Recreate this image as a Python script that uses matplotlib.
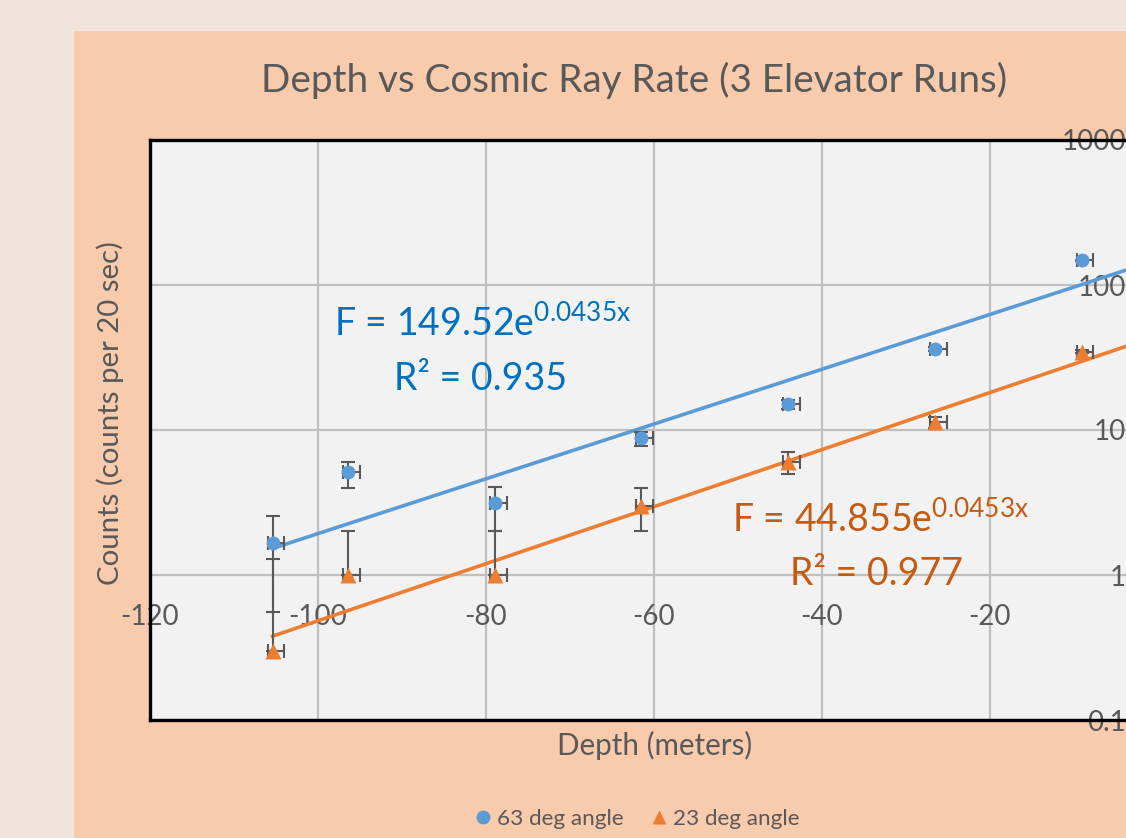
import numpy as np
import matplotlib
matplotlib.use('Agg')
from matplotlib import pyplot as plt
from matplotlib.patches import Rectangle
from matplotlib.lines import Line2D

plt.rcParams['font.family'] = ['Lato', 'DejaVu Sans']
plt.rcParams['mathtext.fontset'] = 'custom'
plt.rcParams['mathtext.rm'] = 'Lato'

# depth of each elevator stop (m)
depth = [-105.4, -96.4, -78.9, -61.5, -44.0, -26.5, -9.1]
depth_err_lo = [0.6] * 7
depth_err_hi = [1.4] * 7

# 63 degree telescope
rate_63 = [1.66, 5.16, 3.14, 8.77, 15.0, 36.2, 148.0]
rate_63_lo = [1.10, 1.15, 1.14, 1.0, 1.0, 1.0, 1.0]
rate_63_hi = [0.89, 0.85, 0.88, 0.95, 1.0, 1.0, 1.0]

# 23 degree telescope
rate_23 = [0.30, 1.0, 1.0, 3.0, 6.0, 11.3, 34.7]
rate_23_lo = [0.0, 0.0, 0.0, 1.0, 1.0, 1.0, 1.0]
rate_23_hi = [0.99, 1.0, 1.0, 1.0, 1.0, 1.0, 1.0]

# Excel exponential trendlines  F = a*exp(b*x)
fit_63 = (149.52, 0.0435, 0.935)
fit_23 = (44.855, 0.0453, 0.977)

xticks = [-120, -100, -80, -60, -40, -20]
yticks = [0.1, 1, 10, 100, 1000]
ytick_labels = ['0.1', '1', '10', '100', '1000']

blue = '#5B9BD5'
orange = '#ED7D31'
grey = '#595959'

W, H = 1126, 838
fig = plt.figure(figsize=(W / 100, H / 100), dpi=100, facecolor='#F2E4DC')

def fx(px):
    return px / W

def fy(py):
    return 1 - py / H

# chart area panel
fig.patches.append(Rectangle((fx(74), 0), 1.0, fy(31), transform=fig.transFigure,
                             facecolor='#F8CBAD', edgecolor='none', zorder=-10))

ax = fig.add_axes([fx(150), fy(720), (1158 - 150) / W, (720 - 140) / H])
ax.set_zorder(1)
ax.set_facecolor('#F2F2F2')
ax.set_yscale('log')
ax.set_xlim(-120, 0)
ax.set_ylim(0.1, 1000)
ax.set_xticks(xticks + [0])
ax.set_xticklabels([str(t) for t in xticks] + [''])
ax.set_yticks(yticks)
ax.set_yticklabels(ytick_labels)
ax.minorticks_off()
ax.grid(True, color='#BFBFBF', linewidth=1.6, zorder=0)
ax.set_axisbelow(True)

# horizontal axis crosses at 1, plot-area border drawn in black
ax.spines['bottom'].set_position(('data', 1))
ax.spines['bottom'].set_visible(False)
ax.spines['right'].set_visible(False)
for s in ['left', 'top']:
    ax.spines[s].set_color('black')
    ax.spines[s].set_linewidth(2.4)
    ax.spines[s].set_zorder(6)
ax.axhline(0.1, color='black', lw=2.4, clip_on=False, zorder=6)

ax.yaxis.tick_right()
ax.tick_params(axis='x', length=0, pad=21, labelsize=20, labelcolor=grey)
ax.tick_params(axis='y', length=0, pad=-23, labelsize=20, labelcolor=grey)
for lab in ax.get_yticklabels():
    lab.set_horizontalalignment('right')

# trendlines
xx = np.linspace(depth[0], 0, 200)
ax.plot(xx, fit_63[0] * np.exp(fit_63[1] * xx), color=blue, lw=2.6, zorder=3)
ax.plot(xx, fit_23[0] * np.exp(fit_23[1] * xx), color=orange, lw=2.6, zorder=3)

# error bars
ax.errorbar(depth, rate_63, yerr=[rate_63_lo, rate_63_hi], xerr=[depth_err_lo, depth_err_hi],
            fmt='none', ecolor=grey, elinewidth=1.5, capsize=5, capthick=1.5, zorder=4)
ax.errorbar(depth, rate_23, yerr=[rate_23_lo, rate_23_hi], xerr=[depth_err_lo, depth_err_hi],
            fmt='none', ecolor=grey, elinewidth=1.5, capsize=5, capthick=1.5, zorder=4)

ax.plot(depth, rate_63, 'o', color=blue, ms=10, mec='none', zorder=5)
ax.plot(depth, rate_23, '^', color=orange, ms=11, mec='none', zorder=5)

# trendline equations
eq_size = 27
fig.text(fx(334), fy(337), r'F = %.2fe$^{\mathregular{%.4fx}}$' % (fit_63[0], fit_63[1]),
         color='#0070C0', fontsize=eq_size, ha='left', va='baseline', zorder=10)
fig.text(fx(394), fy(390), 'R² = %.3f' % fit_63[2], color='#0070C0', fontsize=eq_size,
         ha='left', va='baseline', zorder=10)
fig.text(fx(732), fy(533), r'F = %.3fe$^{\mathregular{%.4fx}}$' % (fit_23[0], fit_23[1]),
         color='#C55A11', fontsize=eq_size, ha='left', va='baseline', zorder=10)
fig.text(fx(790), fy(585), 'R² = %.3f' % fit_23[2], color='#C55A11', fontsize=eq_size,
         ha='left', va='baseline', zorder=10)

# titles
fig.text(fx(634.5), fy(80), 'Depth vs Cosmic Ray Rate (3 Elevator Runs)', color=grey,
         fontsize=27.8, ha='center', va='center')
fig.text(fx(654.5), fy(745), 'Depth (meters)', color=grey, fontsize=21.3, ha='center', va='center')
fig.text(fx(110), fy(413.5), 'Counts (counts per 20 sec)', color=grey, fontsize=21.2,
         rotation=90, ha='center', va='center')

# legend
handles = [Line2D([], [], ls='none', marker='o', color=blue, ms=10, mec='none'),
           Line2D([], [], ls='none', marker='^', color=orange, ms=10, mec='none')]
fig.legend(handles, ['63 deg angle', '23 deg angle'], loc='center', ncol=2,
           bbox_to_anchor=(fx(638), fy(819)), frameon=False, fontsize=16.2,
           labelcolor=grey, handlelength=0.6, handletextpad=0.3, columnspacing=1.3)

plt.savefig('out.png', dpi=100, facecolor=fig.get_facecolor())
